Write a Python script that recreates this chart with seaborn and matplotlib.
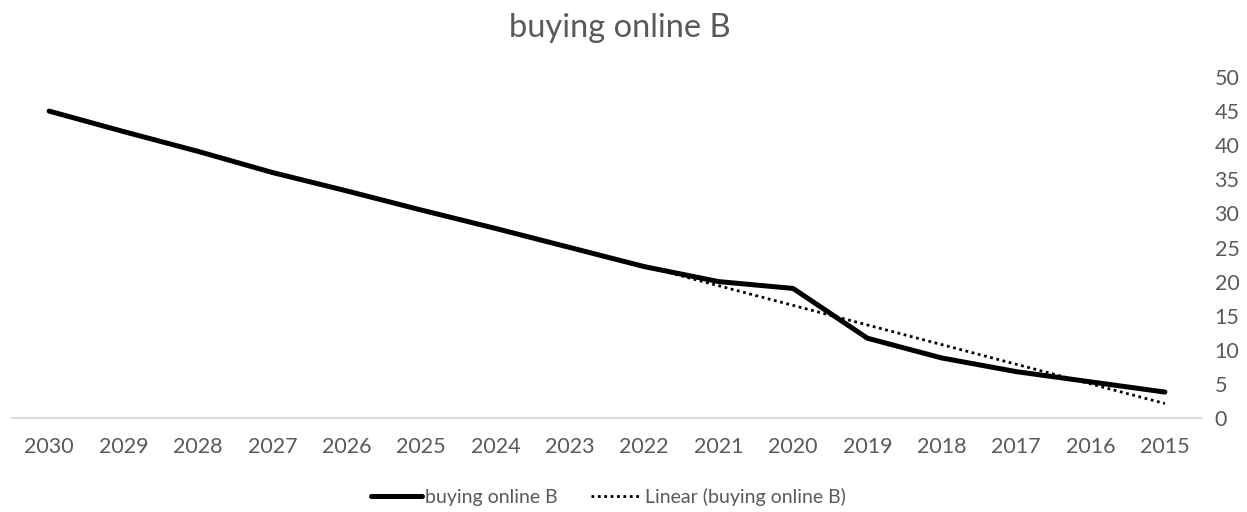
import numpy as np
import pandas as pd
import seaborn as sns
import matplotlib.pyplot as plt
from matplotlib.lines import Line2D

# Series values per year
years = [2030, 2029, 2028, 2027, 2026, 2025, 2024, 2023,
         2022, 2021, 2020, 2019, 2018, 2017, 2016, 2015]
values = [45.0, 42.0, 39.1, 36.0, 33.3, 30.5, 27.8, 25.0,
          22.2, 20.0, 19.0, 11.7, 8.8, 6.8, 5.3, 3.8]
series_name = "buying online B"
trend_name = "Linear (buying online B)"
trend_years = [2022, 2021, 2020, 2019, 2018, 2017, 2016, 2015]
y_ticks = [0, 5, 10, 15, 20, 25, 30, 35, 40, 45, 50]

sns.set_theme(style="white")
plt.rcParams["font.family"] = ["Lato", "DejaVu Sans"]

df = pd.DataFrame({"year": years, "value": values})

# Linear trend fitted on the observed years
obs = df[df["year"].isin(trend_years)]
slope, intercept = np.polyfit(obs["year"], obs["value"], 1)
trend_df = pd.DataFrame({"year": trend_years})
trend_df["value"] = slope * trend_df["year"] + intercept

fig = plt.figure(figsize=(12.47, 5.12), dpi=100)
ax = fig.add_axes([0.0096, 0.1836, 0.9544, 0.666])

sns.lineplot(data=df, x="year", y="value", ax=ax, color="black",
             linewidth=3.6, sort=False, solid_capstyle="round")
sns.lineplot(data=trend_df, x="year", y="value", ax=ax, color="black",
             linewidth=2.0, sort=False)
ax.lines[-1].set_dashes([1.0, 1.3])

ax.set_xlim(2030.5, 2014.5)
ax.set_ylim(0, 50)
ax.set_xticks(years)
ax.set_xticklabels([str(y) for y in years])
ax.set_yticks(y_ticks)
ax.yaxis.tick_right()
ax.set_xlabel("")
ax.set_ylabel("")

for side in ["top", "left", "right"]:
    ax.spines[side].set_visible(False)
ax.spines["bottom"].set_color("#d9d9d9")
ax.spines["bottom"].set_linewidth(1.3)

tick_color = "#595959"
ax.tick_params(axis="x", length=0, pad=14, labelsize=15.5, labelcolor=tick_color)
ax.tick_params(axis="y", length=0, pad=9, labelsize=15.5, labelcolor=tick_color)

fig.text(0.497, 0.945, series_name, ha="center", va="center",
         fontsize=23.5, color=tick_color)

handles = [
    Line2D([], [], color="black", linewidth=3.6, solid_capstyle="round"),
    Line2D([], [], color="black", linewidth=2.0, dashes=[1.0, 1.3]),
]
fig.legend(handles, [series_name, trend_name], loc="center",
           bbox_to_anchor=(0.488, 0.029), ncol=2, frameon=False,
           fontsize=14, labelcolor=tick_color, handlelength=2.6,
           handletextpad=0.15, columnspacing=1.75)

fig.savefig("out.png", dpi=100, facecolor="white")
